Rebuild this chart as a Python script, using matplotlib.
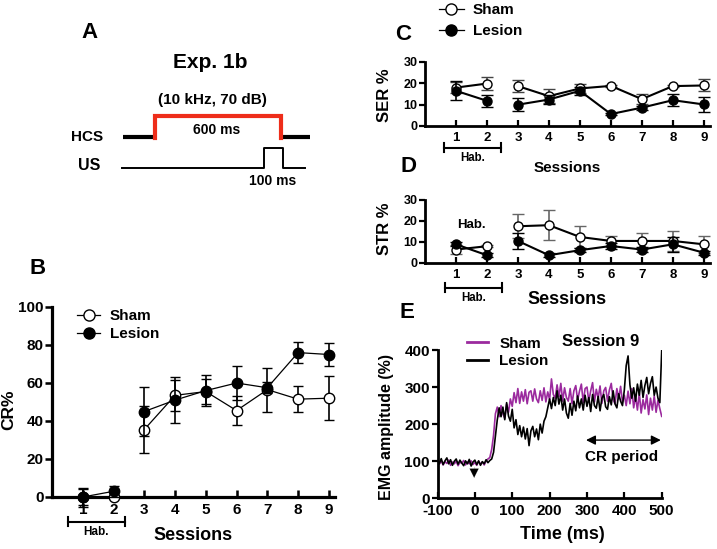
import matplotlib
matplotlib.use("Agg")
import matplotlib.pyplot as plt
import matplotlib.transforms as mtransforms
from matplotlib.lines import Line2D

plt.rcParams['font.family'] = ['Liberation Sans', 'DejaVu Sans']
plt.rcParams['font.weight'] = 'bold'
plt.rcParams['axes.labelweight'] = 'bold'

W, H = 717, 549

# ---- data ----
sessions = [1, 2, 3, 4, 5, 6, 7, 8, 9]

cr_sham = [0, 0, 35.5, 53.5, 55.5, 45.5, 56.5, 51.5, 52]
cr_sham_err = [4, 0, 12.5, 8, 6.5, 7.5, 11.5, 7, 11.5]
cr_lesion = [0, 3, 45, 51, 56, 60, 57.5, 76, 75]
cr_lesion_err = [5, 3, 13, 12, 8, 9, 3, 5.5, 6.3]

ser_sham = [18, 19.9, 18.7, 14, 17.6, 18.8, 12.6, 18.7, 19]
ser_sham_err = [2.7, 3.2, 2.8, 3.4, 2, 0.5, 2.4, 0.5, 2.8]
ser_lesion = [16.5, 11.8, 10, 12.4, 16.5, 5.6, 8.6, 12.1, 10.1]
ser_lesion_err = [4.4, 2.8, 2.9, 2, 2, 0.5, 1, 2.8, 3.5]

str_sham = [6.4, 8, 17.5, 18, 12.4, 10.5, 10.5, 10.5, 8.9]
str_sham_err = [2, 0.5, 5.8, 7.2, 5.3, 2.4, 3.9, 4.8, 4]
str_lesion = [8.9, 3.7, 10.5, 3.7, 6.1, 8.1, 6.4, 8.9, 4.9]
str_lesion_err = [1, 1, 4, 1, 1, 1.5, 1, 3.6, 1]

cr_yticks = [0, 20, 40, 60, 80, 100]
pct_yticks = [0, 10, 20, 30]
emg_xticks = [-100, 0, 100, 200, 300, 400, 500]
emg_yticks = [0, 100, 200, 300, 400]

emg_time = list(range(-100, 505, 5))
emg_sham = [97, 92, 101, 90, 99, 94, 103, 89, 98, 93, 100, 88, 97, 95, 102, 90, 98, 93, 101, 91,
            97, 89, 100, 92, 98, 90, 101, 106,
            110, 132, 170, 228, 246, 220, 250, 228, 216, 254, 232, 268,
            248, 285, 258, 296, 256, 287, 262, 293, 255, 286, 290, 262, 295, 268, 258, 290, 264, 298, 260, 287,
            266, 322, 280, 270, 306, 274, 310, 262, 298, 272, 262, 296, 255, 290, 304, 265, 289, 308, 258, 296,
            300, 262, 290, 312, 260, 294, 270, 303, 256, 290, 299, 262, 292, 310, 266, 255, 296, 268, 302, 260,
            278, 250, 289, 255, 296, 244, 276, 238, 284, 230, 266, 241, 279, 226, 270, 238, 276, 232, 265, 242, 221]
emg_lesion = [102, 94, 107, 91, 101, 109, 93, 104, 89, 100, 106, 92, 103, 95, 88, 101, 93, 105, 87, 98,
              103, 91, 101, 89, 99, 93, 104, 96,
              102, 106, 124, 168, 212, 244, 220, 246, 212, 258, 222, 208,
              240, 190, 212, 172, 196, 166, 192, 160, 188, 142, 182, 194, 166, 187, 158, 200, 176, 208, 220, 244,
              268, 242, 272, 250, 290, 254, 278, 238, 268, 230, 216, 256, 224, 262, 236, 276, 244, 268, 238, 278,
              248, 272, 234, 280, 250, 243, 275, 236, 270, 280, 247, 240, 274, 252, 290, 255, 244, 282, 262, 250,
              292, 358, 384, 306, 270, 298, 262, 308, 278, 318, 272, 304, 326, 282, 310, 328, 278, 300, 270, 258, 398]

PURPLE = '#9b2a9e'

fig = plt.figure(figsize=(W / 100, H / 100), dpi=100)


def px_axes(left, top, right, bottom):
    return fig.add_axes([left / W, 1 - bottom / H, (right - left) / W, (bottom - top) / H])


# overlay in pixel coordinates for panel A and the panel letters
ov = fig.add_axes([0, 0, 1, 1], zorder=-1)
ov.set_xlim(0, W)
ov.set_ylim(H, 0)
ov.axis('off')

for letter, x, y in [('A', 89, 33), ('B', 38, 268), ('C', 403, 34), ('D', 408, 167), ('E', 407, 313)]:
    ov.text(x, y, letter, fontsize=16, ha='center', va='center')

# panel A schematic
ov.text(210, 63, 'Exp. 1b', fontsize=15, ha='center', va='center')
ov.text(212, 100, '(10 kHz, 70 dB)', fontsize=11, ha='center', va='center')
ov.text(87, 137, 'HCS', fontsize=11, ha='center', va='center')
ov.text(89, 166, 'US', fontsize=11.5, ha='center', va='center')
ov.plot([123, 156], [137, 137], color='black', lw=3, solid_capstyle='butt')
ov.plot([281, 310], [137, 137], color='black', lw=3, solid_capstyle='butt')
ov.plot([155, 155, 281, 281], [138, 116, 116, 138], color='#ee2d1a', lw=3, solid_joinstyle='miter')
ov.text(217, 130, '600 ms', fontsize=10, ha='center', va='center')
ov.plot([122, 264, 264, 283, 283, 305], [168, 168, 148, 148, 168, 168], color='black', lw=1.4)
ov.text(273, 181, '100 ms', fontsize=10, ha='center', va='center')


def style_axes(ax, xt, yt, xsize, ysize, spine_lw=2, ylen=4.5, xlen=4.5):
    for s in ['top', 'right']:
        ax.spines[s].set_visible(False)
    for s in ['left', 'bottom']:
        ax.spines[s].set_linewidth(spine_lw)
    ax.set_xticks(xt, [str(v) for v in xt], fontsize=xsize, fontweight='bold')
    ax.set_yticks(yt, [str(v) for v in yt], fontsize=ysize, fontweight='bold')
    ax.tick_params(axis='y', direction='out', length=ylen, width=spine_lw * 0.8, pad=1)
    ax.tick_params(axis='x', direction='in', length=xlen, width=spine_lw * 0.8, pad=4)


def hab_bracket(ax, y, ty, fs, x0=0.6, x1=2.45, cap=0.04):
    tr = mtransforms.blended_transform_factory(ax.transData, ax.transAxes)
    ax.plot([x0, x1], [y, y], color='black', lw=1.5, transform=tr, clip_on=False)
    for xx in (x0, x1):
        ax.plot([xx, xx], [y - cap, y + cap], color='black', lw=1.5, transform=tr, clip_on=False)
    ax.text((x0 + x1) / 2, ty, 'Hab.', fontsize=fs, ha='center', va='center', transform=tr)


def session_plot(ax, sham, sham_err, lesion, lesion_err, ms, lw, cap, ecol):
    # sessions 1-2 (habituation) and 3-9 are drawn as separate lines
    for sl in (slice(0, 2), slice(2, 9)):
        ax.errorbar(sessions[sl], sham[sl], yerr=sham_err[sl], fmt='-o', color='black', mfc='white',
                    mec='black', ms=ms, lw=lw, capsize=cap, ecolor=ecol, elinewidth=1.2,
                    clip_on=False, zorder=3)
        ax.errorbar(sessions[sl], lesion[sl], yerr=lesion_err[sl], fmt='-o', color='black', mfc='black',
                    ms=ms, lw=lw, capsize=cap, ecolor='black', elinewidth=1.2, clip_on=False, zorder=4)
    ax.set_xlim(0, 9.2)


# ---- panel B ----
axB = px_axes(52, 307, 335, 497)
session_plot(axB, cr_sham, cr_sham_err, cr_lesion, cr_lesion_err, 7.5, 0.9, 3.5, 'black')
axB.set_ylim(0, 100)
style_axes(axB, sessions, cr_yticks, 11, 11, spine_lw=2.3, ylen=5, xlen=5)
axB.set_ylabel('CR%', fontsize=12.5)
axB.yaxis.set_label_coords(-0.125, 0.46)
axB.set_xlabel('Sessions', fontsize=13, va='top')
axB.xaxis.set_label_coords(0.5, -0.16)
hab_bracket(axB, -0.13, -0.185, 8.5, x0=0.52, x1=2.37, cap=0.025)
handles = [Line2D([], [], color='black', marker='o', mfc='white', mec='black', ms=8, lw=0.9),
           Line2D([], [], color='black', marker='o', mfc='black', ms=8, lw=0.9)]
axB.legend(handles, ['Sham', 'Lesion'], loc='upper left', bbox_to_anchor=(0.09, 0.99), frameon=False,
           fontsize=11, handlelength=1.5, handletextpad=0.6, labelspacing=0.3, borderpad=0,
           borderaxespad=0)

# ---- panel C ----
axC = px_axes(425, 62, 710, 126)
session_plot(axC, ser_sham, ser_sham_err, ser_lesion, ser_lesion_err, 6.5, 1.5, 4, '#444444')
axC.set_ylim(0, 30)
style_axes(axC, sessions, pct_yticks, 9.5, 9)
axC.set_ylabel('SER %', fontsize=12)
axC.yaxis.set_label_coords(-0.115, 0.48)
axC.set_xlabel('Sessions', fontsize=11, va='top')
axC.xaxis.set_label_coords(0.5, -0.55)
hab_bracket(axC, -0.34, -0.5, 8.3, x0=0.6, x1=2.45, cap=0.07)
axC.legend(handles, ['Sham', 'Lesion'], loc='upper left', bbox_to_anchor=(0.05, 1.92), frameon=False,
           fontsize=11, handlelength=1.6, handletextpad=0.6, labelspacing=0.45, borderpad=0,
           borderaxespad=0)

# ---- panel D ----
axD = px_axes(425, 200, 710, 263)
session_plot(axD, str_sham, str_sham_err, str_lesion, str_lesion_err, 6.5, 1.5, 4, '#666666')
axD.set_ylim(0, 30)
style_axes(axD, sessions, pct_yticks, 9.5, 9)
axD.set_ylabel('STR %', fontsize=12)
axD.yaxis.set_label_coords(-0.115, 0.55)
axD.set_xlabel('Sessions', fontsize=13, va='top')
axD.xaxis.set_label_coords(0.5, -0.45)
hab_bracket(axD, -0.39, -0.55, 8.3, x0=0.65, x1=2.5, cap=0.07)
axD.text(1.5, 0.6, 'Hab.', fontsize=9.5, ha='center', va='center',
         transform=mtransforms.blended_transform_factory(axD.transData, axD.transAxes))

# ---- panel E ----
axE = px_axes(437.5, 350, 661.7, 498.3)
axE.plot(emg_time, emg_sham, color=PURPLE, lw=1.2)
axE.plot(emg_time, emg_lesion, color='black', lw=1.2)
axE.set_xlim(-100, 500)
axE.set_ylim(0, 400)
style_axes(axE, emg_xticks, emg_yticks, 11, 11)
axE.set_ylabel('EMG amplitude (%)', fontsize=11.5)
axE.yaxis.set_label_coords(-0.195, 0.48)
axE.set_xlabel('Time (ms)', fontsize=13, va='top')
axE.xaxis.set_label_coords(0.555, -0.185)
e_handles = [Line2D([], [], color=PURPLE, lw=2), Line2D([], [], color='black', lw=2)]
axE.legend(e_handles, ['Sham', 'Lesion'], loc='upper left', bbox_to_anchor=(0.13, 1.09), frameon=False,
           fontsize=11, handlelength=1.4, handletextpad=0.75, labelspacing=0.25, borderpad=0,
           borderaxespad=0)
axE.text(0.555, 1.06, 'Session 9', fontsize=12, ha='left', va='center', transform=axE.transAxes)
axE.annotate('', xy=(290, 157), xytext=(505, 157),
             arrowprops=dict(arrowstyle='<|-|>', color='black', lw=1, mutation_scale=14),
             annotation_clip=False)
axE.text(392, 112, 'CR period', fontsize=11, ha='center', va='center')
axE.annotate('', xy=(-2, 48), xytext=(-2, 92),
             arrowprops=dict(arrowstyle='-|>', color='black', lw=0.1, mutation_scale=16))

fig.savefig('out.png', dpi=100)
